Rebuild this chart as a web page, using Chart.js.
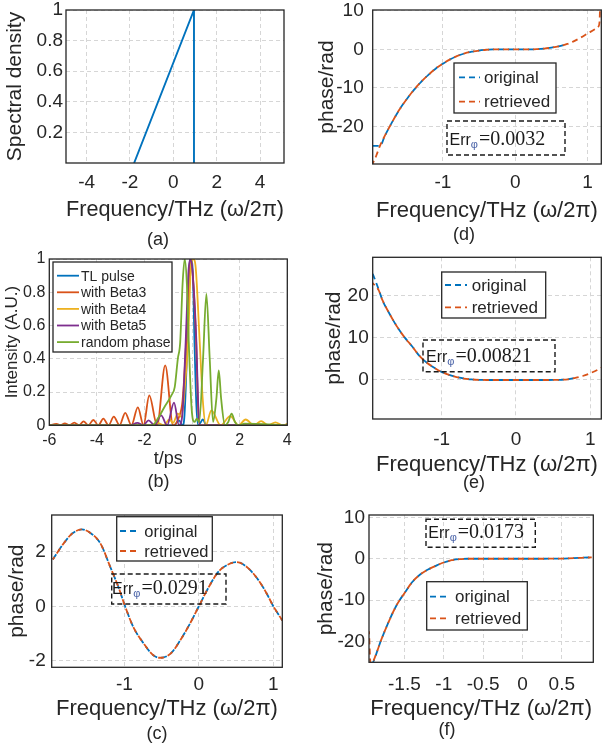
<!DOCTYPE html>
<html>
<head>
<meta charset="utf-8">
<script src="https://cdn.jsdelivr.net/npm/chart.js@4.4.1/dist/chart.umd.min.js"></script>
<style>
  body { margin: 0; background: #fff; width: 602px; height: 745px; position: relative; overflow: hidden; }
  canvas { position: absolute; }
</style>
</head>
<body>
<canvas id="pa"></canvas>
<canvas id="pd"></canvas>
<canvas id="pb"></canvas>
<canvas id="pe"></canvas>
<canvas id="pc"></canvas>
<canvas id="pf"></canvas>
<script>
// ---- (a) spectrum ----
const a_x = [-1.81, 0.95, 0.95];
const a_y = [0, 1, 0];
const a_xticks = [-4, -2, 0, 2, 4];
const a_yticks = [0.2, 0.4, 0.6, 0.8, 1];

// ---- (b) pulse intensity ----
const b_labels = ['TL pulse', 'with Beta3', 'with Beta4', 'with Beta5', 'random phase'];
const b_tl_x = [-6, -0.75, -0.55, -0.4, -0.32, -0.2, -0.12, -0.05, 0.03, 0.1, 0.18, 0.26, 0.35, 0.45, 0.6, 4];
const b_tl_y = [0, 0, 0.03, 0, 0.06, 0.5, 0.92, 1, 0.92, 0.5, 0.12, 0, 0.015, 0.035, 0, 0];
const b_b3_x = [-6, -5.7, -5.52, -5.35, -5.15, -4.95, -4.75, -4.56, -4.36, -4.15, -3.94, -3.73, -3.51, -3.29, -3.05, -2.81, -2.55, -2.28, -2.04, -1.8, -1.47, -1.13, -0.8, -0.55, -0.4, -0.25, -0.13, -0.05, 0.04, 0.17, 0.25, 0.33, 0.5, 4];
const b_b3_y = [0, 0.008, 0, 0.012, 0, 0.016, 0, 0.024, 0, 0.032, 0, 0.04, 0, 0.052, 0, 0.075, 0, 0.108, 0, 0.18, 0, 0.36, 0, 0.05, 0.15, 0.5, 0.9, 1, 0.88, 0.5, 0.12, 0, 0, 0];
const b_b4_x = [-6, -1.7, -1.45, -1.2, -0.95, -0.8, -0.6, -0.45, -0.32, -0.17, -0.05, 0.05, 0.15, 0.32, 0.45, 0.58, 0.81, 1.2, 1.6, 1.95, 2.25, 2.6, 2.9, 3.2, 3.5, 3.8, 4];
const b_b4_y = [0, 0, 0.015, 0, 0.035, 0.015, 0.07, 0.05, 0.2, 0.5, 0.95, 1, 0.95, 0.5, 0.15, 0, 0.09, 0, 0.055, 0, 0.035, 0, 0.025, 0, 0.018, 0, 0.008];
const b_b5_x = [-6, -2.6, -2.3, -2.05, -1.83, -1.58, -1.3, -1.05, -0.76, -0.55, -0.42, -0.27, -0.15, -0.07, 0.02, 0.18, 0.25, 0.33, 0.45, 4];
const b_b5_y = [0, 0, 0.015, 0, 0.03, 0, 0.06, 0, 0.136, 0, 0.05, 0.5, 0.93, 1, 0.92, 0.5, 0.15, 0, 0, 0];
const b_rp_x = [-6, -1.68, -1.4, -1.16, -0.87, -0.73, -0.6, -0.5, -0.4, -0.31, -0.22, -0.14, -0.02, 0.1, 0.2, 0.3, 0.46, 0.6, 0.74, 0.88, 1.02, 1.12, 1.22, 1.38, 1.52, 1.66, 1.8, 1.95, 2.2, 4];
const b_rp_y = [0, 0, 0.05, 0.11, 0.18, 0.23, 0.4, 0.5, 0.85, 1, 0.85, 0.5, 0.1, 0.02, 0.04, 0.02, 0.4, 0.79, 0.4, 0.02, 0.16, 0.33, 0.16, 0, 0.02, 0.07, 0.02, 0, 0.01, 0];
const b_xticks = [-6, -4, -2, 0, 2, 4];
const b_yticks = [0, 0.2, 0.4, 0.6, 0.8, 1];

// ---- (c) phase ----
const c_x = [-1.96, -1.83, -1.7, -1.57, -1.46, -1.32, -1.19, -1.08, -0.99, -0.88, -0.74, -0.61, -0.52, -0.38, -0.25, -0.12, 0.0, 0.13, 0.26, 0.42, 0.51, 0.64, 0.8, 0.91, 1.0, 1.12];
const c_orig = [1.72, 2.25, 2.67, 2.82, 2.7, 2.3, 1.45, 0.71, 0, -0.76, -1.37, -1.8, -1.89, -1.74, -1.25, -0.64, 0, 0.69, 1.26, 1.57, 1.62, 1.45, 0.96, 0.47, 0, -0.52];
const c_retr = [1.72, 2.25, 2.67, 2.82, 2.7, 2.3, 1.45, 0.71, 0, -0.76, -1.37, -1.8, -1.89, -1.74, -1.25, -0.64, 0, 0.69, 1.26, 1.57, 1.62, 1.45, 0.96, 0.47, 0, -0.52];
const c_xticks = [-1, 0, 1];
const c_yticks = [-2, 0, 2];
const c_err = '0.0291';

// ---- (d) phase ----
const d_orig_x = [-1.97, -1.87, -1.8, -1.7, -1.6, -1.5, -1.4, -1.3, -1.2, -1.1, -1.0, -0.9, -0.8, -0.7, -0.6, -0.5, -0.4, -0.3, -0.2, 0, 0.2, 0.3, 0.4, 0.5, 0.6, 0.72];
const d_orig_y = [-25, -25, -22.3, -18.8, -15.6, -12.9, -10.5, -8.4, -6.6, -5.0, -3.7, -2.6, -1.7, -1.05, -0.6, -0.3, -0.1, 0, 0, 0, 0, 0.05, 0.2, 0.45, 0.8, 1.4];
const d_retr_x = [-1.97, -1.92, -1.87, -1.8, -1.7, -1.6, -1.5, -1.4, -1.3, -1.2, -1.1, -1.0, -0.9, -0.8, -0.7, -0.6, -0.5, -0.4, -0.3, -0.2, 0, 0.2, 0.3, 0.4, 0.5, 0.6, 0.72, 0.8, 0.9, 1.0, 1.1, 1.15, 1.165, 1.175];
const d_retr_y = [-29.6, -27.5, -25, -22.3, -18.8, -15.6, -12.9, -10.5, -8.4, -6.6, -5.0, -3.7, -2.6, -1.7, -1.05, -0.6, -0.3, -0.1, 0, 0, 0, 0, 0.05, 0.2, 0.45, 0.8, 1.4, 2.0, 3.0, 4.1, 5.2, 5.9, 7, 12];
const d_xticks = [-1, 0, 1];
const d_yticks = [-20, -10, 0, 10];
const d_err = '0.0032';

// ---- (e) phase ----
const e_orig_x = [-1.93, -1.85, -1.8, -1.7, -1.6, -1.5, -1.4, -1.3, -1.2, -1.1, -1.0, -0.9, -0.8, -0.7, -0.6, -0.5, -0.4, -0.2, 0, 0.2, 0.4, 0.6, 0.7, 0.8];
const e_orig_y = [25.2, 21.5, 19.0, 15.6, 12.6, 10.1, 8.0, 5.7, 4.1, 2.9, 1.9, 1.2, 0.7, 0.35, 0.15, 0.05, 0, 0, 0, 0, 0, 0.05, 0.15, 0.5];
const e_retr_x = [-1.93, -1.85, -1.8, -1.7, -1.6, -1.5, -1.4, -1.3, -1.2, -1.1, -1.0, -0.9, -0.8, -0.7, -0.6, -0.5, -0.4, -0.2, 0, 0.2, 0.4, 0.6, 0.7, 0.8, 0.9, 1.0, 1.1, 1.15];
const e_retr_y = [23, 21.3, 19.0, 15.6, 12.6, 10.1, 8.0, 5.7, 4.1, 2.9, 1.9, 1.2, 0.7, 0.35, 0.15, 0.05, 0, 0, 0, 0, 0, 0.05, 0.15, 0.5, 0.95, 1.6, 2.4, 2.9];
const e_xticks = [-1, 0, 1];
const e_yticks = [0, 10, 20];
const e_err = '0.00821';

// ---- (f) phase ----
const f_orig_x = [-1.93, -1.9, -1.85, -1.8, -1.7, -1.6, -1.5, -1.4, -1.3, -1.2, -1.1, -1.0, -0.9, -0.8, -0.7, -0.5, 0, 0.5, 0.88];
const f_orig_y = [-25.3, -25, -22.5, -19.8, -15.2, -11.2, -8.3, -5.6, -3.8, -2.6, -1.7, -0.9, -0.35, -0.1, 0, 0, 0, 0.05, 0.35];
const f_retr_x = [-1.95, -1.93, -1.9, -1.85, -1.8, -1.7, -1.6, -1.5, -1.4, -1.3, -1.2, -1.1, -1.0, -0.9, -0.8, -0.7, -0.5, 0, 0.5, 0.88];
const f_retr_y = [-17.5, -25.3, -24.8, -22.5, -19.8, -15.2, -11.2, -8.3, -5.6, -3.8, -2.6, -1.7, -0.9, -0.35, -0.1, 0, 0, 0, 0.05, 0.35];
const f_xticks = [-1.5, -1, -0.5, 0, 0.5];
const f_yticks = [-20, -10, 0, 10];
const f_err = '0.0173';

const BLUE = '#0072BD', ORANGE = '#D95319', YELLOW = '#EDB120', PURPLE = '#7E2F8E', GREEN = '#77AC30';
const INK = '#262626';
const GRID = '#d6d6d6';
const SANS = '"Liberation Sans", Arial, Helvetica, sans-serif';
const FREQ = 'Frequency/THz (\u03c9/2\u03c0)';

function pts(xs, ys) {
    return xs.map((x, i) => ({ x: x, y: ys[i] }));
}

// box around the plot area, like matlab's "box on"
const framePlugin = {
    id: 'frame',
    afterDatasetsDraw(chart) {
        const { ctx, chartArea: a } = chart;
        ctx.save();
        ctx.strokeStyle = INK;
        ctx.lineWidth = 1.3;
        ctx.strokeRect(a.left, a.top, a.right - a.left, a.bottom - a.top);
        ctx.restore();
    }
};

// legend drawn inside the axes
const legendPlugin = {
    id: 'boxLegend',
    afterDraw(chart, args, o) {
        const ctx = chart.ctx;
        ctx.save();
        ctx.fillStyle = '#fff';
        ctx.fillRect(o.x, o.y, o.w, o.h);
        ctx.strokeStyle = INK;
        ctx.lineWidth = 1.3;
        ctx.strokeRect(o.x, o.y, o.w, o.h);
        ctx.font = o.size + 'px ' + SANS;
        ctx.textBaseline = 'middle';
        chart.data.datasets.forEach((d, i) => {
            const yy = o.y + o.first + i * o.step;
            ctx.strokeStyle = d.borderColor;
            ctx.lineWidth = 1.8;
            ctx.setLineDash(o.dashed ? [6, 4] : []);
            ctx.beginPath();
            ctx.moveTo(o.x1, yy);
            ctx.lineTo(o.x2, yy);
            ctx.stroke();
            ctx.setLineDash([]);
            ctx.fillStyle = INK;
            ctx.fillText(d.label, o.tx, yy + 1);
        });
        ctx.restore();
    }
};

// dashed annotation box with the retrieval error
const errPlugin = {
    id: 'errBox',
    afterDraw(chart, args, o) {
        const ctx = chart.ctx;
        ctx.save();
        ctx.strokeStyle = '#1a1a1a';
        ctx.lineWidth = 1.4;
        ctx.setLineDash([5, 3]);
        ctx.strokeRect(o.x, o.y, o.w, o.h);
        ctx.setLineDash([]);
        let x = o.tx;
        ctx.textBaseline = 'alphabetic';
        ctx.fillStyle = '#1a1a1a';
        ctx.font = '16px ' + SANS;
        ctx.fillText('Err', x, o.base);
        x += ctx.measureText('Err').width;
        ctx.font = '11px ' + SANS;
        ctx.fillStyle = '#4a63a8';
        ctx.fillText('\u03c6', x, o.base + 3);
        x += ctx.measureText('\u03c6').width + 1;
        ctx.font = '20px "Liberation Serif", "DejaVu Serif", serif';
        ctx.fillStyle = '#1a1a1a';
        ctx.fillText('=' + o.value, x, o.base);
        ctx.restore();
    }
};

// panel letter under each plot
const letterPlugin = {
    id: 'panelLetter',
    afterDraw(chart, args, o) {
        const ctx = chart.ctx;
        ctx.save();
        ctx.font = '18px ' + SANS;
        ctx.fillStyle = INK;
        ctx.textAlign = 'center';
        ctx.textBaseline = 'middle';
        ctx.fillText(o.text, o.x, o.y);
        ctx.restore();
    }
};

function build(id, s, datasets) {
    const [cx, cy, W, H] = s.canvas;
    const [L, T, R, B] = s.area;
    const cv = document.getElementById(id);
    cv.width = W;
    cv.height = H;
    cv.style.left = cx + 'px';
    cv.style.top = cy + 'px';

    const hx = H - (B - cy);
    const xtPad = B + hx - 0.6 * s.xtSize - s.xTitleY;
    const ytPad = s.yTitleX - cx - 0.6 * s.ytSize;
    const yw = L - cx;

    return new Chart(cv, {
        type: 'line',
        data: { datasets: datasets },
        options: {
            responsive: false,
            animation: false,
            devicePixelRatio: 1,
            layout: { padding: { top: T - cy, right: cx + W - R, left: 0, bottom: 0 } },
            elements: {
                point: { radius: 0 },
                line: { borderWidth: 1.8, cubicInterpolationMode: 'monotone' }
            },
            plugins: {
                legend: { display: false },
                tooltip: { enabled: false },
                title: { display: false },
                panelLetter: { text: s.label, x: s.labelX - cx, y: s.labelY - cy },
                boxLegend: s.legend || false,
                errBox: s.err || false
            },
            scales: {
                x: {
                    type: 'linear', min: s.xr[0], max: s.xr[1],
                    afterBuildTicks: sc => { sc.ticks = s.xticks.map(v => ({ value: v })); },
                    afterFit: sc => { sc.height = hx; sc.paddingLeft = 0; sc.paddingRight = 0; },
                    grid: { color: GRID, drawTicks: false },
                    border: { display: false, dash: [4, 3] },
                    ticks: {
                        autoSkip: false, maxRotation: 0, color: INK,
                        padding: s.tickY - B - 0.6 * s.tickSize,
                        font: { family: SANS, size: s.tickSize },
                        callback: v => String(v)
                    },
                    title: {
                        display: true, text: s.xTitle, color: INK,
                        font: { family: SANS, size: s.xtSize },
                        padding: { top: 0, bottom: xtPad }
                    }
                },
                y: {
                    type: 'linear', min: s.yr[0], max: s.yr[1],
                    afterBuildTicks: sc => { sc.ticks = s.yticks.map(v => ({ value: v })); },
                    afterFit: sc => { sc.width = yw; sc.paddingTop = 0; sc.paddingBottom = 0; },
                    grid: { color: GRID, drawTicks: false },
                    border: { display: false, dash: [4, 3] },
                    ticks: {
                        autoSkip: false, color: INK, padding: s.yTickPad,
                        font: { family: SANS, size: s.tickSize },
                        callback: v => String(v)
                    },
                    title: {
                        display: true, text: s.yTitle, color: INK,
                        font: { family: SANS, size: s.ytSize },
                        padding: { top: ytPad, bottom: 0 }
                    }
                }
            }
        },
        plugins: [framePlugin, legendPlugin, errPlugin, letterPlugin]
    });
}

function phaseSets(ox, oy, rx, ry) {
    return [
        { label: 'original', data: pts(ox, oy), borderColor: BLUE, borderDash: [6, 4], order: 1 },
        { label: 'retrieved', data: pts(rx, ry), borderColor: ORANGE, borderDash: [6, 4], borderDashOffset: 3, order: 0 }
    ];
}

// (a)
build('pa', {
    canvas: [0, 0, 300, 250], area: [66, 10, 284, 163],
    xr: [-4.95, 5.1], yr: [0, 1], xticks: a_xticks, yticks: a_yticks,
    tickSize: 19, tickY: 183, yTickPad: 3,
    xTitle: FREQ, xtSize: 22, xTitleY: 210,
    yTitle: 'Spectral density', ytSize: 21, yTitleX: 15,
    label: '(a)', labelX: 158, labelY: 240
}, [
    { label: 'spectrum', data: pts(a_x, a_y), borderColor: BLUE, borderWidth: 1.9, cubicInterpolationMode: 'default', tension: 0 }
]);

// (d)
build('pd', {
    canvas: [300, 0, 302, 250], area: [372.7, 10, 601.3, 164],
    xr: [-1.97, 1.19], yr: [-29.7, 10.2], xticks: d_xticks, yticks: d_yticks,
    tickSize: 19, tickY: 183, yTickPad: 9,
    xTitle: FREQ, xtSize: 22, xTitleY: 211,
    yTitle: 'phase/rad', ytSize: 21, yTitleX: 327.5,
    label: '(d)', labelX: 464, labelY: 235,
    legend: { x: 154, y: 63, w: 102, h: 50, first: 14.3, step: 24.4, x1: 159, x2: 180, tx: 184, size: 17, dashed: true },
    err: { x: 147, y: 121, w: 118, h: 34, tx: 149.5, base: 145, value: d_err }
}, phaseSets(d_orig_x, d_orig_y, d_retr_x, d_retr_y));

// (b)
build('pb', {
    canvas: [0, 250, 300, 250], area: [49.3, 259, 287.3, 425.3],
    xr: [-6, 4], yr: [0, 1], xticks: b_xticks, yticks: b_yticks,
    tickSize: 16, tickY: 440.7, yTickPad: 4,
    xTitle: 't/ps', xtSize: 18, xTitleY: 459,
    yTitle: 'Intensity (A.U.)', ytSize: 17, yTitleX: 12.8,
    label: '(b)', labelX: 158.5, labelY: 481.7,
    legend: { x: 53, y: 12, w: 119, h: 90, first: 13.7, step: 16.6, x1: 57, x2: 79, tx: 81, size: 14, dashed: false }
}, [
    { label: b_labels[0], data: pts(b_tl_x, b_tl_y), borderColor: BLUE, order: 5 },
    { label: b_labels[1], data: pts(b_b3_x, b_b3_y), borderColor: ORANGE, order: 4 },
    { label: b_labels[2], data: pts(b_b4_x, b_b4_y), borderColor: YELLOW, order: 3 },
    { label: b_labels[3], data: pts(b_b5_x, b_b5_y), borderColor: PURPLE, order: 2 },
    { label: b_labels[4], data: pts(b_rp_x, b_rp_y), borderColor: GREEN, order: 1 }
]);

// (e)
build('pe', {
    canvas: [300, 250, 302, 250], area: [372.7, 257.3, 601.3, 419],
    xr: [-1.93, 1.15], yr: [-9.25, 29.1], xticks: e_xticks, yticks: e_yticks,
    tickSize: 19, tickY: 440, yTickPad: 4,
    xTitle: FREQ, xtSize: 22, xTitleY: 465,
    yTitle: 'phase/rad', ytSize: 21, yTitleX: 334,
    label: '(e)', labelX: 474, labelY: 483,
    legend: { x: 141.7, y: 22, w: 104, h: 46, first: 13, step: 22.3, x1: 145, x2: 167, tx: 171.7, size: 17, dashed: true },
    err: { x: 123, y: 90, w: 132, h: 31.7, tx: 126, base: 111.5, value: e_err }
}, phaseSets(e_orig_x, e_orig_y, e_retr_x, e_retr_y));

// (c)
build('pc', {
    canvas: [0, 500, 300, 245], area: [51.7, 515, 282.3, 667.3],
    xr: [-1.975, 1.12], yr: [-2.24, 3.35], xticks: c_xticks, yticks: c_yticks,
    tickSize: 19, tickY: 685, yTickPad: 6,
    xTitle: FREQ, xtSize: 22, xTitleY: 709,
    yTitle: 'phase/rad', ytSize: 21, yTitleX: 17.5,
    label: '(c)', labelX: 157, labelY: 734,
    legend: { x: 116.7, y: 16.7, w: 95.6, h: 44.3, first: 14.3, step: 20, x1: 120, x2: 140, tx: 144.3, size: 16.5, dashed: true },
    err: { x: 111.7, y: 74, w: 114.3, h: 30, tx: 112, base: 93.5, value: c_err }
}, phaseSets(c_x, c_orig, c_x, c_retr));

// (f)
build('pf', {
    canvas: [300, 500, 302, 245], area: [369, 515, 593.3, 662.3],
    xr: [-1.95, 0.9], yr: [-24.96, 10.55], xticks: f_xticks, yticks: f_yticks,
    tickSize: 19, tickY: 685, yTickPad: 4,
    xTitle: FREQ, xtSize: 22, xTitleY: 709,
    yTitle: 'phase/rad', ytSize: 21, yTitleX: 325.8,
    label: '(f)', labelX: 447, labelY: 730,
    legend: { x: 126.7, y: 81.7, w: 100.6, h: 48.3, first: 15, step: 21.6, x1: 130, x2: 150, tx: 155, size: 17, dashed: true },
    err: { x: 126, y: 19.3, w: 109.3, h: 28, tx: 128.3, base: 38, value: f_err }
}, phaseSets(f_orig_x, f_orig_y, f_retr_x, f_retr_y));
</script>
</body>
</html>
